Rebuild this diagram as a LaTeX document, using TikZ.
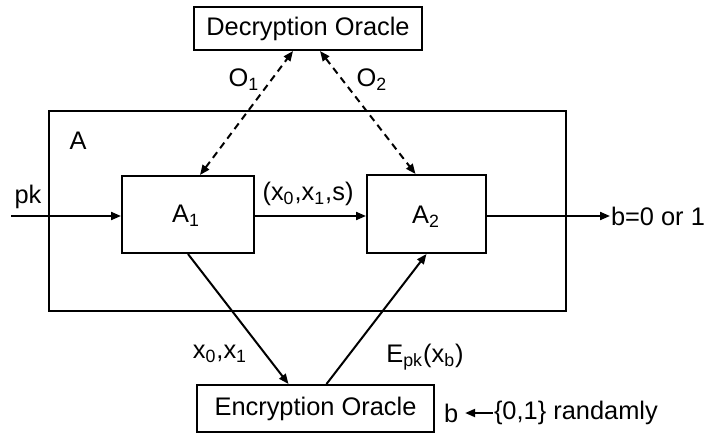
\documentclass[tikz,border=0pt]{standalone}
\usepackage{fontspec}
\setmainfont{Liberation Sans}
\usetikzlibrary{arrows.meta}

\begin{document}
\begin{tikzpicture}[x=0.5pt,y=-0.5pt,line width=1pt,
    font=\fontsize{12.7}{15}\selectfont,
    box/.style={draw,inner sep=0pt},
    arr/.style={-{Triangle[length=5pt,width=4pt]}},
    darr/.style={{Triangle[length=5pt,width=4pt]}-{Triangle[length=5pt,width=4pt]},dash pattern=on 3.5pt off 2.5pt}]
  \useasboundingbox (0,0) rectangle (706,434);

  % Boxes
  \node [box,minimum width=114pt,minimum height=21.5pt] (dec) at (308,28.5) {Decryption Oracle};
  \node [box,minimum width=258.5pt,minimum height=100pt] (adv) at (307.5,211) {};
  \node [box,minimum width=66pt,minimum height=38.5pt] (a1) at (188,214.5) {};
  \node [box,minimum width=59.5pt,minimum height=39pt] (a2) at (426.5,214) {};
  \node [box,minimum width=118.5pt,minimum height=23.5pt] (enc) at (315.5,408.5) {Encryption Oracle};

  % Labels
  \node (lA) at (78,141) {A};
  \node (la1) at (186,216) {A\textsubscript{1}};
  \node (la2) at (426,217) {A\textsubscript{2}};
  \node (pk) at (28,197) {pk};
  \node (msg) at (308,194) {(x\textsubscript{0},x\textsubscript{1},s)};
  \node (o1) at (244,80) {O\textsubscript{1}};
  \node (o2) at (372,80) {O\textsubscript{2}};
  \node (xx) at (220,354) {x\textsubscript{0},x\textsubscript{1}};
  \node (epk) at (425,357) {E\textsubscript{pk}(x\textsubscript{b})};
  \node [anchor=west,inner sep=0pt] (out) at (610,216) {b=0 or 1};
  \node [anchor=west,inner sep=0pt] (b) at (443,413) {b};
  \node [anchor=west,inner sep=0pt] (rnd) at (493,413) {\{0,1\} randamly};
  \coordinate (in) at (11,216);

  % Oracle queries
  \draw [darr] ([xshift=6pt]a1.north) -- ([xshift=-7.5pt]dec.south);
  \draw [darr] ([xshift=6pt]dec.south) -- ([xshift=-5.5pt]a2.north);

  % Data flow
  \draw [arr] (in) -- (a1.west |- in);
  \draw [arr] (a1.east |- in) -- (a2.west |- in);
  \draw [arr] (a2.east |- in) -- (out.west);
  \draw [arr] (a1.south) -- ([xshift=-13.5pt]enc.north);
  \draw [arr] ([xshift=5.5pt]enc.north) -- (a2.south);
  \draw [arr] (rnd.west) -- ([xshift=3pt]b.east);
\end{tikzpicture}
\end{document}
